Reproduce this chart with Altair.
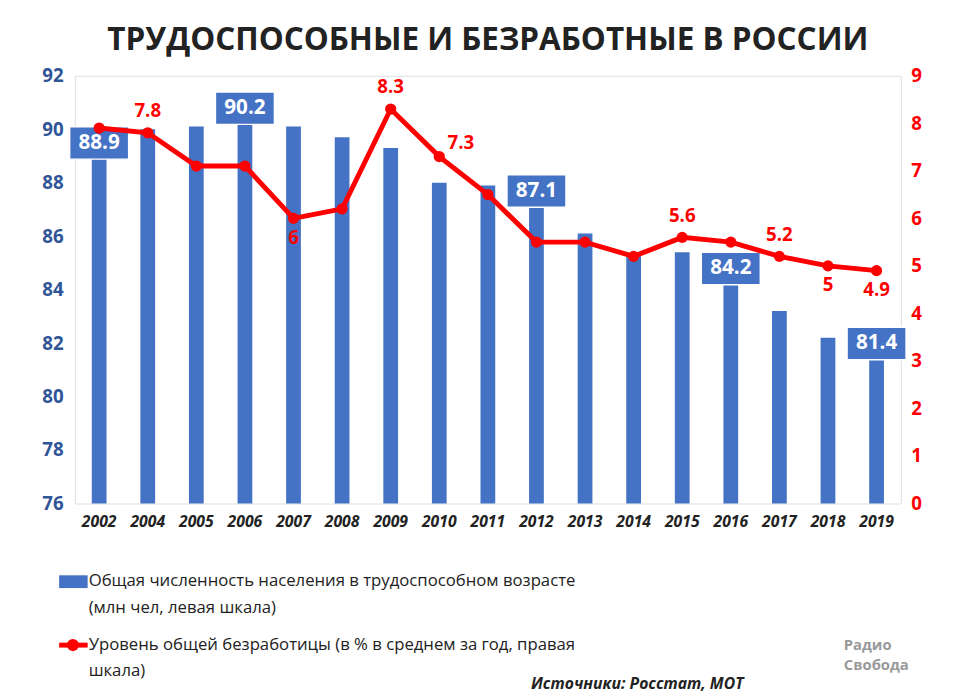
import altair as alt
import pandas as pd

years = ["2002", "2004", "2005", "2006", "2007", "2008", "2009", "2010", "2011",
         "2012", "2013", "2014", "2015", "2016", "2017", "2018", "2019"]
workforce = [88.9, 90.0, 90.1, 90.2, 90.1, 89.7, 89.3, 88.0, 87.9,
             87.1, 86.1, 85.3, 85.4, 84.2, 83.2, 82.2, 81.4]
unemployment = [7.9, 7.8, 7.1, 7.1, 6.0, 6.2, 8.3, 7.3, 6.5,
                5.5, 5.5, 5.2, 5.6, 5.5, 5.2, 5.0, 4.9]
bar_label_years = ["2002", "2006", "2012", "2016", "2019"]
line_above = ["2004", "2009", "2015", "2017"]
line_below = ["2007", "2018", "2019"]
line_right = ["2010"]

df = pd.DataFrame({"year": years, "work": workforce, "unemp": unemployment})
df["unemp_label"] = df["unemp"].map(lambda v: f"{v:g}")

BLUE = "#4472C4"
RED = "#FF0000"
x = alt.X("year:N", title=None, scale=alt.Scale(paddingInner=0.7, paddingOuter=0.35),
          axis=alt.Axis(labelAngle=0, labelFontSize=16, labelFontWeight="bold",
                        labelFontStyle="italic", labelColor="#222", domain=False,
                        ticks=False, labelPadding=10, labelFont="Open Sans"))
yl = alt.Y("work:Q", title=None, scale=alt.Scale(domain=[76, 92]),
           axis=alt.Axis(values=list(range(76, 93, 2)), grid=False, domain=False, ticks=False,
                         labelFontSize=19, labelColor="#2F5597", labelPadding=12,
                         labelFontWeight="bold", labelFont="Open Sans"))
yr = alt.Y("unemp:Q", title=None, scale=alt.Scale(domain=[0, 9]),
           axis=alt.Axis(orient="right", values=list(range(10)), grid=False, domain=False,
                         ticks=False, labelFontSize=19, labelColor=RED, labelPadding=10,
                         labelFontWeight="bold", labelFont="Open Sans"))

base = alt.Chart(df)
bars = base.mark_bar(color=BLUE, size=15, clip=True).encode(x=x, y=yl)
lab = base.transform_filter(alt.FieldOneOfPredicate(field="year", oneOf=bar_label_years))
boxes = lab.mark_point(shape="M-1,-0.55L1,-0.55L1,0.55L-1,0.55Z", filled=True, opacity=1,
                       color=BLUE, size=3600, stroke="white", strokeWidth=1.5,
                       yOffset=-16).encode(x=x, y=yl)
btxt = lab.mark_text(color="white", fontSize=21, fontWeight="bold", dy=-16,
                     font="Open Sans").encode(x=x, y=yl, text=alt.Text("work:Q", format=".1f"))
left = alt.layer(bars, boxes, btxt)

line = base.mark_line(color=RED, strokeWidth=5).encode(x=x, y=yr)
pts = base.mark_circle(color=RED, size=130, opacity=1).encode(x=x, y=yr)
def ltxt(sel, dx, dy):
    return base.transform_filter(alt.FieldOneOfPredicate(field="year", oneOf=sel)).mark_text(
        color=RED, fontSize=19, fontWeight="bold", dx=dx, dy=dy, font="Open Sans"
    ).encode(x=x, y=yr, text="unemp_label:N")
right = alt.layer(line, pts, ltxt(line_above, 0, -22), ltxt(line_below, 0, 20),
                  ltxt(line_right, 22, -14))

one = pd.DataFrame({"a": [0]})
def t(s, px, py, size=17, color="#222", weight="normal", style="normal", align="left"):
    return alt.Chart(one).mark_text(text=s, fontSize=size, color=color, fontWeight=weight,
                                    fontStyle=style, align=align, baseline="middle",
                                    font="Open Sans").encode(x=alt.value(px), y=alt.value(py))
legend = alt.layer(
    alt.Chart(one).mark_rect(color=BLUE).encode(x=alt.value(-16), x2=alt.value(13),
                                                y=alt.value(508), y2=alt.value(521)),
    t("Общая численность населения в трудоспособном  возрасте", 14, 514),
    t("(млн чел, левая шкала)", 14, 541),
    alt.Chart(one).mark_rule(color=RED, strokeWidth=5).encode(x=alt.value(-16), x2=alt.value(13),
                                                              y=alt.value(579)),
    alt.Chart(one).mark_circle(color=RED, size=150, opacity=1).encode(x=alt.value(-2), y=alt.value(579)),
    t("Уровень общей безработицы (в % в среднем за год,  правая", 14, 579),
    t("шкала)", 14, 605),
    t("Источники: Росстат, МОТ", 680, 619, size=16, weight="bold", style="italic", align="right"),
    t("Радио", 782, 579, size=15, color="#999", weight="bold"),
    t("Свобода", 782, 599, size=15, color="#999", weight="bold"),
)

chart = alt.layer(left, right, legend).resolve_scale(y="independent").properties(
    width=840, height=435,
    title=alt.TitleParams("ТРУДОСПОСОБНЫЕ И БЕЗРАБОТНЫЕ В РОССИИ", fontSize=32,
                          fontWeight="bold", color="#222", font="Open Sans", offset=10),
    autosize=alt.AutoSizeParams(type="none"),
    padding={"left": 68, "top": 63, "right": 52, "bottom": 200},
).configure_view(strokeWidth=0).configure(background="white")

chart.save("out.html", embed_options={"renderer": "svg", "actions": False})
